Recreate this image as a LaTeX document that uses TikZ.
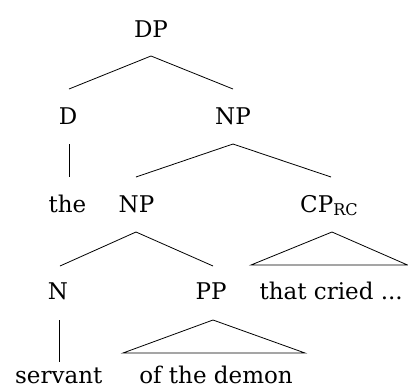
\documentclass[tikz,border=0pt]{standalone}
\usepackage{fontspec}
\setmainfont{DejaVu Serif}
\begin{document}
\begin{tikzpicture}[x=1pt,y=-1pt,
  lab/.style={inner sep=0pt,anchor=base,font=\fontsize{23}{27}\selectfont},
  br/.style={line width=0.8pt,line join=miter}]
\useasboundingbox (0,0) rectangle (408,389);
\node[lab] (dp) at (151,37) {DP};
\node[lab] (d) at (68,124) {D};
\node[lab] (np1) at (233,124) {NP};
\node[lab] (the) at (67.5,212) {the};
\node[lab] (np2) at (136.5,212) {NP};
\node[lab,anchor=base west] (cp) at (300,212) {CP\textsubscript{RC}};
\node[lab] (n) at (58,299) {N};
\node[lab] (pp) at (211,299) {PP};
\node[lab,anchor=base east] (tc) at (403,299) {that cried ...};
\node[lab,anchor=base west] (serv) at (15,383.5) {servant};
\node[lab,anchor=base east] (oft) at (293,383.5) {of the demon};
\coordinate (dpt) at (151,56);
\coordinate (dl) at (69,89);
\coordinate (npr) at (233,89);
\draw[br] (dl) -- (dpt) -- (npr);
\coordinate (dt) at (69,144);
\coordinate (db) at (69,177);
\draw[br] (dt) -- (db);
\coordinate (npt) at (233,144);
\coordinate (npl) at (136,177);
\coordinate (cpr) at (331,177);
\draw[br] (npl) -- (npt) -- (cpr);
\coordinate (np2t) at (136,232);
\coordinate (nl) at (60,266);
\coordinate (ppr) at (213,266);
\draw[br] (nl) -- (np2t) -- (ppr);
\coordinate (cpt) at (332,232);
\draw[br] (cpt) -- (251,265) -- (407.5,265) -- cycle;
\coordinate (nt) at (59,320);
\coordinate (nb) at (59,362);
\draw[br] (nt) -- (nb);
\coordinate (ppt) at (213,320);
\draw[br] (ppt) -- (123,353) -- (305,353) -- cycle;
\end{tikzpicture}
\end{document}
